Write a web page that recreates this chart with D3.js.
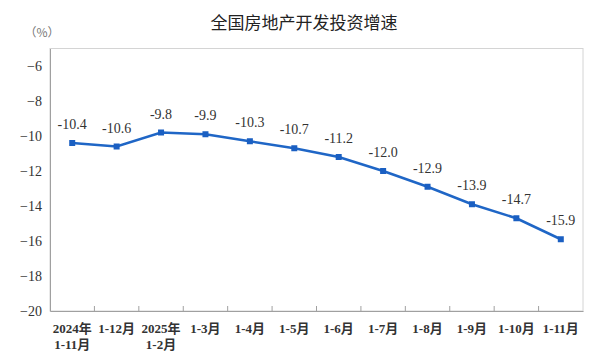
<!DOCTYPE html>
<html><head><meta charset="utf-8">
<script src="https://cdn.jsdelivr.net/npm/d3@7"></script>
<style>body{margin:0;background:#fff;}</style>
</head><body>
<svg id="c" width="611" height="364"></svg>
<script>
const categories = [["2024年","1-11月"],["1-12月"],["2025年","1-2月"],["1-3月"],["1-4月"],["1-5月"],["1-6月"],["1-7月"],["1-8月"],["1-9月"],["1-10月"],["1-11月"]];
const values = [-10.4,-10.6,-9.8,-9.9,-10.3,-10.7,-11.2,-12.0,-12.9,-13.9,-14.7,-15.9];
const yTicks = [-20,-18,-16,-14,-12,-10,-8,-6];
const title = "全国房地产开发投资增速";
const unit = "（%）";

const svg = d3.select("#c");
const L=50,R=583,T=48.5,B=311;
const x = d3.scaleBand().domain(d3.range(values.length)).range([L,R]);
const y = d3.scaleLinear().domain([-20,-5]).range([B,T]);
const font = "'Liberation Serif','Noto Sans CJK SC',serif";

svg.append("rect").attr("x",L).attr("y",T).attr("width",R-L).attr("height",B-T)
  .attr("fill","none").attr("stroke","#d4d4d4").attr("stroke-width",1);

svg.append("text").attr("x",304).attr("y",29).attr("text-anchor","middle")
  .attr("font-family","'Noto Sans CJK SC',sans-serif").attr("font-size",17).attr("fill","#222").text(title);
svg.append("text").attr("x",42).attr("y",37).attr("text-anchor","middle")
  .attr("font-family","'Noto Sans CJK SC',serif").attr("font-size",12).attr("fill","#777").text(unit);

// y axis
const ya = svg.append("g").attr("transform",`translate(${L},0)`)
  .call(d3.axisLeft(y).tickValues(yTicks).tickSize(0).tickPadding(8).tickFormat(d3.format("d")));
ya.select(".domain").attr("stroke","#a0a0a0");
ya.selectAll("text").attr("font-family",font).attr("font-size",14).attr("fill","#333");

// x axis
const xa = svg.append("g").attr("transform",`translate(0,${B})`)
  .call(d3.axisBottom(x).tickSize(0).tickFormat(""));
xa.select(".domain").attr("stroke","#a0a0a0");
const bounds = d3.range(1,values.length).map(i=>x(i));
svg.append("g").selectAll("line").data(bounds).join("line")
  .attr("x1",d=>d).attr("x2",d=>d).attr("y1",B).attr("y2",B-5).attr("stroke","#a0a0a0");
svg.append("g").selectAll("text").data(categories).join("text")
  .attr("x",(d,i)=>x(i)+x.bandwidth()/2).attr("y",333)
  .attr("text-anchor","middle").attr("font-family",font).attr("font-size",13)
  .attr("font-weight","bold").attr("fill","#333")
  .each(function(d){
    d.forEach((s,k)=>d3.select(this).append("tspan").attr("x",d3.select(this).attr("x")).attr("dy",k?16:0).text(s));
  });

const cx = i=>x(i)+x.bandwidth()/2;
const line = d3.line().x((d,i)=>cx(i)).y(d=>y(d));
svg.append("path").datum(values).attr("d",line).attr("fill","none")
  .attr("stroke","#1f66c6").attr("stroke-width",2.5);
svg.append("g").selectAll("rect").data(values).join("rect")
  .attr("x",(d,i)=>cx(i)-3).attr("y",d=>y(d)-3).attr("width",6).attr("height",6).attr("fill","#1a5fc2");
svg.append("g").selectAll("text").data(values).join("text")
  .attr("x",(d,i)=>cx(i)).attr("y",d=>y(d)-14).attr("text-anchor","middle")
  .attr("font-family",font).attr("font-size",14).attr("fill","#333")
  .text(d=>d.toFixed(1));
</script>
</body></html>
